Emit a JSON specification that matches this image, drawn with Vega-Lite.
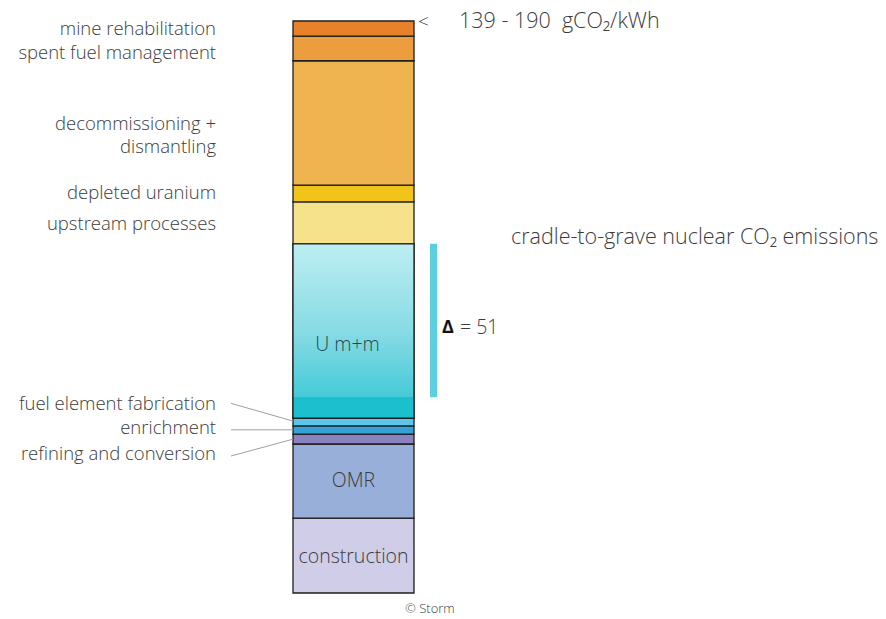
{
  "$schema": "https://vega.github.io/schema/vega-lite/v6.json",
  "autosize": {"type": "none"},
  "padding": {"left": 293, "top": 21, "right": 472, "bottom": 26},
  "width": 121,
  "height": 572,
  "background": "white",
  "config": {"view": {"stroke": null}, "text": {"font": "Open Sans", "fontWeight": 300, "color": "#3c3c3c", "fontSize": 18.5}},
  "datasets": {
    "segments": [
      {"seg": "construction", "lo": 0, "hi": 24.9},
      {"seg": "OMR", "lo": 24.9, "hi": 49.5},
      {"seg": "refining and conversion", "lo": 49.5, "hi": 52.8},
      {"seg": "enrichment", "lo": 52.8, "hi": 55.5},
      {"seg": "fuel element fabrication", "lo": 55.5, "hi": 58.1},
      {"seg": "U m+m", "lo": 58.1, "hi": 116},
      {"seg": "upstream processes", "lo": 116, "hi": 129.9},
      {"seg": "depleted uranium", "lo": 129.9, "hi": 135.5},
      {"seg": "decommissioning + dismantling", "lo": 135.5, "hi": 176.8},
      {"seg": "spent fuel management", "lo": 176.8, "hi": 185},
      {"seg": "mine rehabilitation", "lo": 185, "hi": 190}
    ],
    "leftLabels": [
      {"label": "mine rehabilitation", "at": 187.4},
      {"label": "spent fuel management", "at": 179.5},
      {"label": "decommissioning +\ndismantling", "at": 155.8},
      {"label": "depleted uranium", "at": 132.9},
      {"label": "upstream processes", "at": 122.6},
      {"label": "fuel element fabrication", "at": 62.8},
      {"label": "enrichment", "at": 54.8},
      {"label": "refining and conversion", "at": 46.2}
    ],
    "leaders": [
      {"seg": "fuel element fabrication", "labelAt": 63.0, "barAt": 57.1},
      {"seg": "enrichment", "labelAt": 54.2, "barAt": 54.2},
      {"seg": "refining and conversion", "labelAt": 45.5, "barAt": 51.1}
    ],
    "inside": [
      {"label": "OMR", "at": 37.2},
      {"label": "construction", "at": 12.0}
    ]
  },
  "resolve": {"scale": {"x": "independent"}},
  "layer": [
    {
      "data": {"name": "segments"},
      "mark": {"type": "bar", "stroke": "#1e1e1e", "strokeWidth": 1.3},
      "encoding": {
        "x": {"datum": "nuclear", "type": "nominal", "scale": {"paddingInner": 0, "paddingOuter": 0}, "axis": null},
        "y": {"field": "lo", "type": "quantitative", "scale": {"domain": [0, 190], "nice": false}, "axis": null},
        "y2": {"field": "hi"},
        "color": {
          "field": "seg", "type": "nominal", "legend": null,
          "scale": {
            "domain": ["construction", "OMR", "refining and conversion", "enrichment", "fuel element fabrication", "U m+m", "upstream processes", "depleted uranium", "decommissioning + dismantling", "spent fuel management", "mine rehabilitation"],
            "range": ["#d0cde8", "#97afd9", "#8983c0", "#34a1d8", "#5ec5ea", "#1cbfce", "#f6e28b", "#f2c41a", "#efb350", "#ec9d3d", "#e8822a"]
          }
        }
      }
    },
    {
      "data": {"name": "segments"},
      "transform": [{"filter": "datum.seg === 'U m+m'"}],
      "mark": {
        "type": "bar", "stroke": "#1e1e1e", "strokeWidth": 1.3,
        "color": {
          "gradient": "linear", "x1": 0, "y1": 0, "x2": 0, "y2": 1,
          "stops": [
            {"offset": 0, "color": "#bdeef2"},
            {"offset": 0.5, "color": "#88dbe4"},
            {"offset": 0.879, "color": "#45cbd8"},
            {"offset": 0.881, "color": "#1cbfce"},
            {"offset": 1, "color": "#1cbfce"}
          ]
        }
      },
      "encoding": {
        "x": {"datum": "nuclear", "type": "nominal", "scale": {"paddingInner": 0, "paddingOuter": 0}, "axis": null},
        "y": {"field": "lo", "type": "quantitative", "scale": {"domain": [0, 190], "nice": false}, "axis": null},
        "y2": {"field": "hi"}
      }
    },
    {
      "data": {"name": "leaders"},
      "transform": [{"fold": ["labelAt", "barAt"], "as": ["end", "v"]}],
      "mark": {"type": "line", "stroke": "#a0a0a0", "strokeWidth": 1},
      "encoding": {
        "x": {"field": "end", "type": "nominal", "scale": {"type": "point", "domain": ["labelAt", "barAt"], "range": [-62, 0], "padding": 0}, "axis": null},
        "y": {"field": "v", "type": "quantitative", "scale": {"domain": [0, 190], "nice": false}, "axis": null},
        "detail": {"field": "seg"}
      }
    },
    {
      "data": {"values": [{"what": "delta", "lo": 65, "hi": 116}]},
      "mark": {"type": "bar", "color": "#5ccfe0"},
      "encoding": {
        "x": {"datum": "delta", "type": "nominal", "scale": {"range": [137, 144], "paddingInner": 0, "paddingOuter": 0}, "axis": null},
        "y": {"field": "lo", "type": "quantitative", "scale": {"domain": [0, 190], "nice": false}, "axis": null},
        "y2": {"field": "hi"}
      }
    },
    {
      "data": {"name": "leftLabels"},
      "mark": {"type": "text", "align": "right", "baseline": "middle", "dx": -137.5, "lineBreak": "\n", "lineHeight": 23},
      "encoding": {
        "x": {"datum": "nuclear", "type": "nominal", "axis": null},
        "y": {"field": "at", "type": "quantitative", "scale": {"domain": [0, 190], "nice": false}, "axis": null},
        "text": {"field": "label"}
      }
    },
    {
      "data": {"name": "inside"},
      "mark": {"type": "text", "align": "center", "baseline": "middle", "fontSize": 19.5},
      "encoding": {
        "x": {"datum": "nuclear", "type": "nominal", "axis": null},
        "y": {"field": "at", "type": "quantitative", "scale": {"domain": [0, 190], "nice": false}, "axis": null},
        "text": {"field": "label"}
      }
    },
    {
      "data": {"values": [{"label": "U m+m", "at": 82.4}]},
      "mark": {"type": "text", "align": "center", "baseline": "middle", "dx": -6, "fontSize": 19.5, "color": "#1f4a50"},
      "encoding": {
        "x": {"datum": "nuclear", "type": "nominal", "axis": null},
        "y": {"field": "at", "type": "quantitative", "scale": {"domain": [0, 190], "nice": false}, "axis": null},
        "text": {"field": "label"}
      }
    },
    {
      "data": {"values": [{"label": "<", "at": 189.8}]},
      "mark": {"type": "text", "align": "left", "baseline": "middle", "dx": 64.5, "fontSize": 19},
      "encoding": {
        "x": {"datum": "nuclear", "type": "nominal", "axis": null},
        "y": {"field": "at", "type": "quantitative", "scale": {"domain": [0, 190], "nice": false}, "axis": null},
        "text": {"field": "label"}
      }
    },
    {
      "data": {"values": [{"label": "139 - 190\u00a0 gCO₂/kWh", "at": 189.8}]},
      "mark": {"type": "text", "align": "left", "baseline": "middle", "dx": 105.5, "fontSize": 21.5},
      "encoding": {
        "x": {"datum": "nuclear", "type": "nominal", "axis": null},
        "y": {"field": "at", "type": "quantitative", "scale": {"domain": [0, 190], "nice": false}, "axis": null},
        "text": {"field": "label"}
      }
    },
    {
      "data": {"values": [{"label": "cradle-to-grave nuclear CO₂ emissions", "at": 117.9}]},
      "mark": {"type": "text", "align": "left", "baseline": "middle", "dx": 157.5, "fontSize": 21.5},
      "encoding": {
        "x": {"datum": "nuclear", "type": "nominal", "axis": null},
        "y": {"field": "at", "type": "quantitative", "scale": {"domain": [0, 190], "nice": false}, "axis": null},
        "text": {"field": "label"}
      }
    },
    {
      "data": {"values": [{"label": "Δ", "at": 88.0}]},
      "mark": {"type": "text", "align": "left", "baseline": "middle", "dx": 88.5, "fontSize": 18, "fontWeight": "bold", "color": "#111111"},
      "encoding": {
        "x": {"datum": "nuclear", "type": "nominal", "axis": null},
        "y": {"field": "at", "type": "quantitative", "scale": {"domain": [0, 190], "nice": false}, "axis": null},
        "text": {"field": "label"}
      }
    },
    {
      "data": {"values": [{"label": "= 51", "at": 88.0}]},
      "mark": {"type": "text", "align": "left", "baseline": "middle", "dx": 106.5, "fontSize": 19.5},
      "encoding": {
        "x": {"datum": "nuclear", "type": "nominal", "axis": null},
        "y": {"field": "at", "type": "quantitative", "scale": {"domain": [0, 190], "nice": false}, "axis": null},
        "text": {"field": "label"}
      }
    },
    {
      "data": {"values": [{"label": "© Storm", "at": 0}]},
      "mark": {"type": "text", "align": "left", "baseline": "middle", "dx": 51.5, "dy": 16, "fontSize": 13},
      "encoding": {
        "x": {"datum": "nuclear", "type": "nominal", "axis": null},
        "y": {"field": "at", "type": "quantitative", "scale": {"domain": [0, 190], "nice": false}, "axis": null},
        "text": {"field": "label"}
      }
    }
  ]
}
